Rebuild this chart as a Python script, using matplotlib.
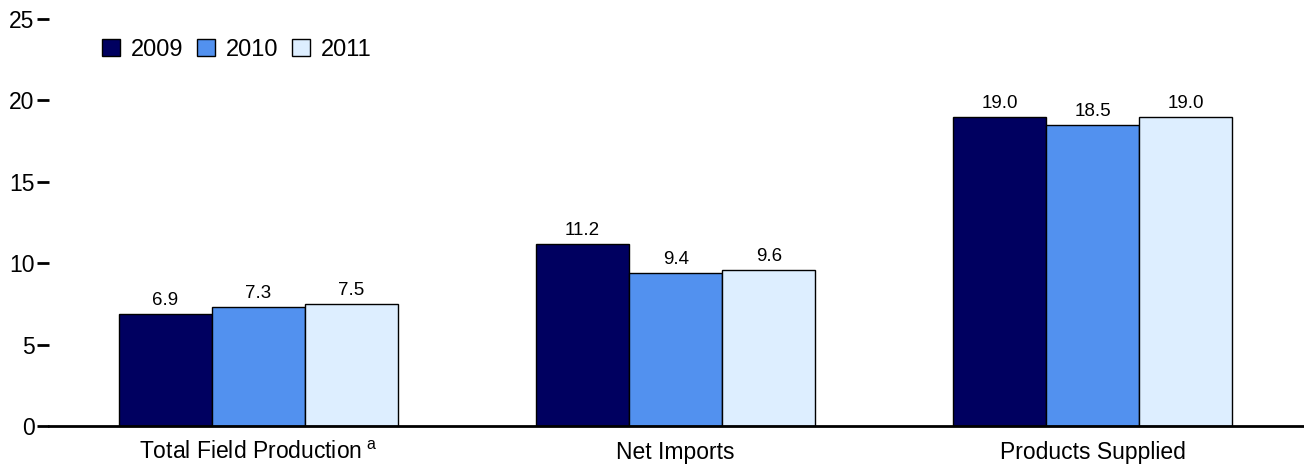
import numpy as np
import matplotlib
matplotlib.use('Agg')
import matplotlib.pyplot as plt

plt.rcParams['font.family'] = ['Liberation Sans', 'DejaVu Sans']
plt.rcParams['mathtext.fontset'] = 'custom'
plt.rcParams['mathtext.rm'] = 'Liberation Sans'

categories = ['Total Field Production$^{\\;\\mathrm{a}}$', 'Net Imports', 'Products Supplied']
years = ['2009', '2010', '2011']
values_2009 = [6.9, 11.2, 19.0]
values_2010 = [7.3, 9.4, 18.5]
values_2011 = [7.5, 9.6, 19.0]
colors = ['#000060', '#5291ef', '#ddeeff']

fig = plt.figure(figsize=(13.04, 4.67), dpi=100)
ax = fig.add_axes([0.0376, 0.0878, 0.9624, 0.8715])

x = np.arange(len(categories))
width = 0.223
series = [values_2009, values_2010, values_2011]
for i, (vals, yr, c) in enumerate(zip(series, years, colors)):
    pos = x + (i - 1) * width
    bars = ax.bar(pos, vals, width, color=c, edgecolor='black', linewidth=1, label=yr)
    for b, v in zip(bars, vals):
        ax.text(b.get_x() + b.get_width() / 2, v + 0.3, f'{v:.1f}',
                ha='center', va='bottom', fontsize=13.5)

ax.set_xlim(-0.502, 2.506)
ax.set_ylim(0, 25)
ax.set_yticks([0, 5, 10, 15, 20, 25])
ax.set_xticks(x)
ax.set_xticklabels(categories, fontsize=16.5)
ax.tick_params(axis='x', length=0, pad=11)
ax.tick_params(axis='y', length=8.5, width=2, labelsize=16.5, pad=2)

for s in ['top', 'right', 'left']:
    ax.spines[s].set_visible(False)
ax.spines['bottom'].set_linewidth(2)

ax.legend(loc='upper left', bbox_to_anchor=(0.0255, 1.004), ncol=3, frameon=False,
          fontsize=17, handlelength=0.75, handleheight=0.75, handletextpad=0.45,
          columnspacing=0.6)

plt.savefig('out.png', dpi=100)
